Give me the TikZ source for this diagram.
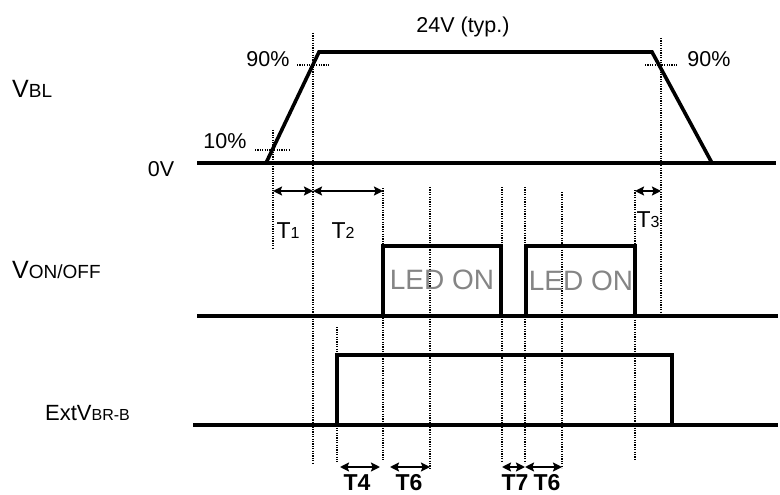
\documentclass[tikz,border=0pt]{standalone}
\usepackage{fontspec}
\setmainfont{Liberation Sans}
\usetikzlibrary{arrows.meta}
\newcommand{\fsz}[1]{\fontsize{#1}{#1}\selectfont}
\begin{document}
\begin{tikzpicture}[x=1pt,y=-1pt,
  wave/.style={line width=3.6pt, line join=miter, line cap=butt},
  guide/.style={line width=1.4pt, dash pattern=on 1.2pt off 1.2pt},
  dim/.style={line width=1.8pt, {Stealth[length=9pt,width=9pt,inset=1.5pt]}-{Stealth[length=9pt,width=9pt,inset=1.5pt]}},
  lbl/.style={inner sep=0pt, anchor=base},
  ledtxt/.style={inner sep=0pt, anchor=base, text=black!48, font=\fsz{28}},
  tlbl/.style={inner sep=0pt, anchor=base, font=\fsz{23}\bfseries}
]
\useasboundingbox (0,0) rectangle (780,495);

% ---------- VBL waveform ----------
\coordinate (b0) at (197,163);
\coordinate (b1) at (266,163);
\coordinate (b2) at (319,52);
\coordinate (b3) at (652,52);
\coordinate (b4) at (712,163);
\coordinate (b5) at (776,163);
\draw[wave] (b0) -- (b5);
\draw[wave] (b1) -- (b2) -- (b3) -- (b4);

% ---------- VON/OFF waveform ----------
\coordinate (o0) at (197,316);
\coordinate (o9) at (778,316);
\coordinate (p1a) at (383,316); \coordinate (p1b) at (383,246);
\coordinate (p1c) at (501,246); \coordinate (p1d) at (501,316);
\coordinate (p2a) at (526,316); \coordinate (p2b) at (526,246);
\coordinate (p2c) at (635,246); \coordinate (p2d) at (635,316);
\draw[wave] (o0) -- (o9);
\draw[wave] (p1a) -- (p1b) -- (p1c) -- (p1d);
\draw[wave] (p2a) -- (p2b) -- (p2c) -- (p2d);

% ---------- ExtVBR-B waveform ----------
\coordinate (e0) at (193,425);
\coordinate (e9) at (778,425);
\coordinate (e1) at (337,425); \coordinate (e2) at (337,355);
\coordinate (e3) at (672,355); \coordinate (e4) at (672,425);
\draw[wave] (e0) -- (e9);
\draw[wave] (e1) -- (e2) -- (e3) -- (e4);

% ---------- dotted guides ----------
\draw[guide] (255,150) -- (289,150);
\draw[guide] (297,65) -- (330,65);
\draw[guide] (645,65) -- (678,65);
\coordinate (g1t) at (273,130); \coordinate (g1b) at (273,248);
\coordinate (g2t) at (313,33);  \coordinate (g2b) at (313,464);
\coordinate (g3t) at (383,188); \coordinate (g3b) at (383,460);
\coordinate (g4t) at (430,187); \coordinate (g4b) at (430,468);
\coordinate (g5t) at (502,187); \coordinate (g5b) at (502,462);
\coordinate (g6t) at (525,187); \coordinate (g6b) at (525,463);
\coordinate (g7t) at (562,192); \coordinate (g7b) at (562,468);
\coordinate (g8t) at (635,190); \coordinate (g8b) at (635,461);
\coordinate (g9t) at (661,38);  \coordinate (g9b) at (661,316);
\coordinate (g10t) at (337,327); \coordinate (g10b) at (337,462);
\foreach \g in {g1,g2,g3,g4,g5,g6,g7,g8,g9,g10}
  \draw[guide] (\g t) -- (\g b);

% ---------- dimension arrows ----------
\coordinate (d1a) at (273,191); \coordinate (d1b) at (313,191);
\coordinate (d2b) at (383,191);
\coordinate (d3a) at (635,191); \coordinate (d3b) at (661,191);
\draw[dim] (d1a) -- (d1b);
\draw[dim] (d1b) -- (d2b);
\draw[dim] (d3a) -- (d3b);
\coordinate (d4a) at (340,467); \coordinate (d4b) at (380,467);
\coordinate (d5a) at (390,467); \coordinate (d5b) at (430,467);
\coordinate (d6a) at (502,467); \coordinate (d6b) at (525,467);
\coordinate (d7b) at (562,467);
\draw[dim] (d4a) -- (d4b);
\draw[dim] (d5a) -- (d5b);
\draw[dim] (d6a) -- (d6b);
\draw[dim] (d6b) -- (d7b);

% ---------- labels ----------
\node[lbl, font=\fsz{21.5}] (typ) at (463,33) {24V (typ.)};
\node[lbl, font=\fsz{21.5}] (n90l) at (268,67) {90\%};
\node[lbl, font=\fsz{21.5}] (n90r) at (709,67) {90\%};
\node[lbl, font=\fsz{21.5}] (n10) at (225,148) {10\%};
\node[lbl, font=\fsz{21.5}] (zero) at (161,176) {0V};
\node[lbl, anchor=base west] (vbl) at (12,98) {\fsz{25}V\fsz{19}BL};
\node[lbl, anchor=base west] (von) at (12,278) {\fsz{25}V\fsz{19}ON/OFF};
\node[lbl, anchor=base west] (ext) at (45,420) {\fsz{22}ExtV\fsz{16}BR-B};

\node[lbl] (t1) at (288,238) {\fsz{23}T\fsz{16}1};
\node[lbl] (t2) at (343,238) {\fsz{23}T\fsz{16}2};
\node[lbl] (t3) at (648,227) {\fsz{23}T\fsz{16}3};

\node[ledtxt] (led1) at (442,289) {LED ON};
\node[ledtxt] (led2) at (581,290) {LED ON};

\node[tlbl] (t4) at (357,490) {T4};
\node[tlbl] (t6a) at (409,490) {T6};
\node[tlbl] (t7) at (515,490) {T7};
\node[tlbl] (t6b) at (547,490) {T6};
\end{tikzpicture}
\end{document}
